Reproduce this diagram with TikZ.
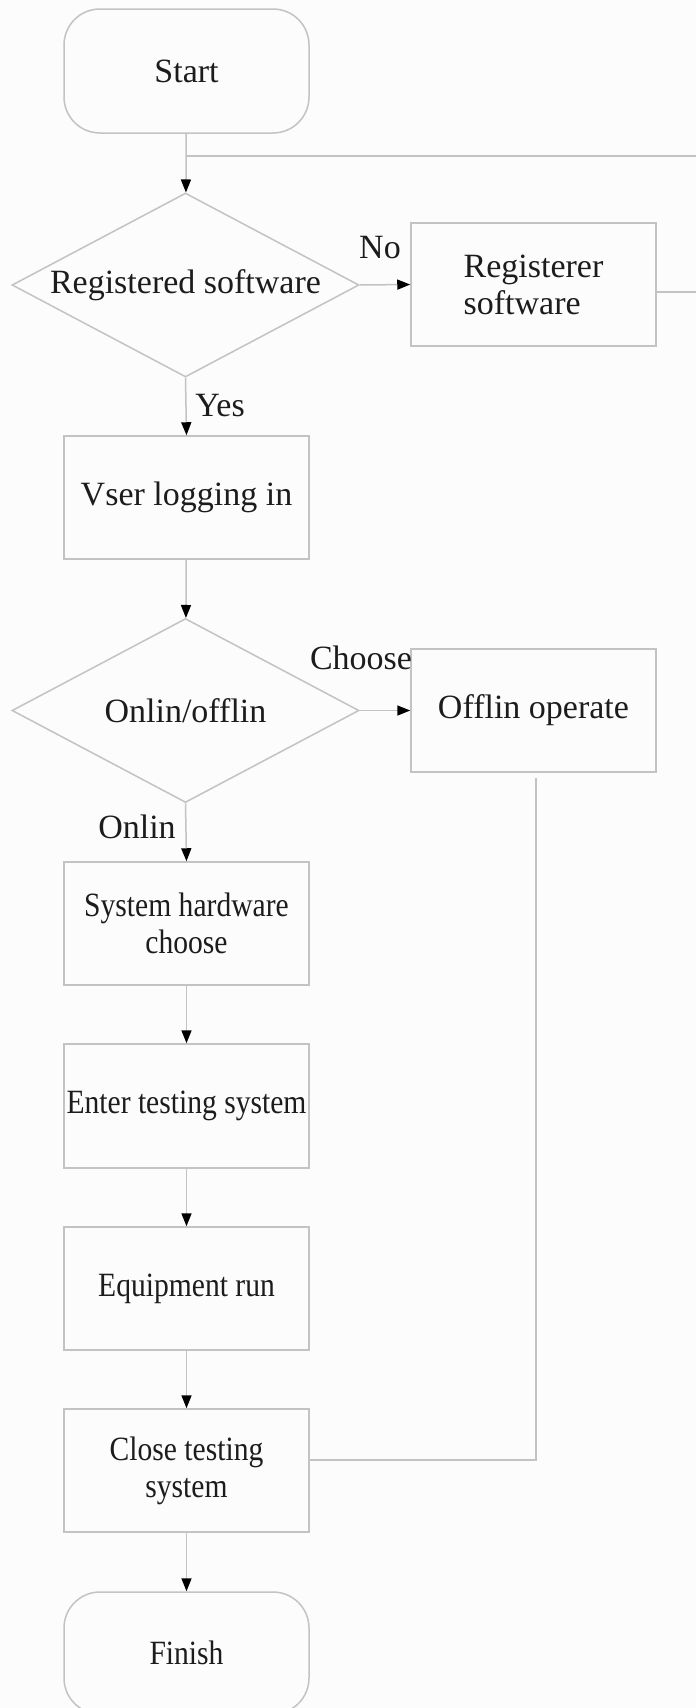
\documentclass[tikz,border=0pt]{standalone}
\usepackage{fontspec}
\setmainfont{Liberation Serif}
\newfontfamily\condfont{Liberation Serif}[FakeStretch=0.87]
\usetikzlibrary{shapes.geometric,arrows.meta}
\definecolor{linegray}{RGB}{195,195,195}
\definecolor{txt}{RGB}{28,28,28}
\definecolor{bgc}{RGB}{252,252,252}
\begin{document}
\begin{tikzpicture}[x=1pt,y=-1pt,
  every node/.style={text=txt},
  normtext/.style={font=\fontsize{34}{37}\selectfont},
  condtext/.style={font=\condfont\fontsize{34}{37}\selectfont},
  stepbox/.style={draw=linegray, line width=1.5pt, rectangle, minimum width=245pt,
    minimum height=123pt, inner sep=0pt, align=center},
  termbox/.style={stepbox, rounded corners=36pt},
  decbox/.style={draw=linegray, line width=1.5pt, diamond, aspect=1.886,
    minimum width=347pt, minimum height=184pt, inner sep=0pt, align=center, normtext},
  conn/.style={draw=linegray, line width=1.5pt},
  arr/.style={conn, -{Triangle[length=13pt,width=10pt,color=black]}},
  lbl/.style={normtext, inner sep=0pt}
]
\fill[bgc] (0,0) rectangle (696,1708);
\useasboundingbox (0,0) rectangle (696,1708);

% nodes
\node[termbox, normtext, minimum height=124pt] (start) at (186.5,71) {Start};
\node[decbox] (d1) at (185.5,285) {Registered software};
\node[stepbox, normtext, align=left] (reg) at (533.5,284.5) {Registerer\\software};
\node[stepbox, normtext] (vser) at (186.5,497.5) {Vser logging in};
\node[decbox] (d2) at (185.5,710.5) {Onlin/offlin};
\node[stepbox, normtext] (off) at (533.5,710.5) {Offlin operate};
\node[stepbox, condtext] (sys) at (186.5,923.5) {System hardware\\choose};
\node[stepbox, condtext, minimum height=124pt] (enter) at (186.5,1106) {Enter testing system};
\node[stepbox, condtext] (equip) at (186.5,1288.5) {Equipment run};
\node[stepbox, condtext] (close) at (186.5,1470.5) {Close testing\\system};
\node[termbox, condtext, minimum height=122pt] (finish) at (186.5,1653) {Finish};

% labels
\node[lbl] (lno) at (380,248) {No};
\node[lbl] (lyes) at (220,406) {Yes};
\node[lbl] (lchoose) at (361,658) {Choose};
\node[lbl] (lonlin) at (137,827) {Onlin};

% coordinates
\coordinate (tr) at (696,156);
\coordinate (rr) at (696,292);
\coordinate (oc) at (536,1460);

% connectors
\draw[arr] (start) -- (d1);
\draw[conn] (start.south |- tr) -- (tr);
\draw[arr] (d1.east) -- (reg.west);
\draw[conn] (reg.east |- rr) -- (rr);
\draw[arr] (d1.south) -- (vser.north);
\draw[arr] (vser) -- (d2);
\draw[arr] (d2.east) -- (off.west);
\draw[arr] (d2.south) -- (sys.north);
\draw[arr] (sys) -- (enter);
\draw[arr] (enter) -- (equip);
\draw[arr] (equip) -- (close);
\draw[arr] (close) -- (finish);
\draw[conn, shorten <=5pt] (off.south -| oc) -- (oc) -- (close.east |- oc);
\end{tikzpicture}
\end{document}
